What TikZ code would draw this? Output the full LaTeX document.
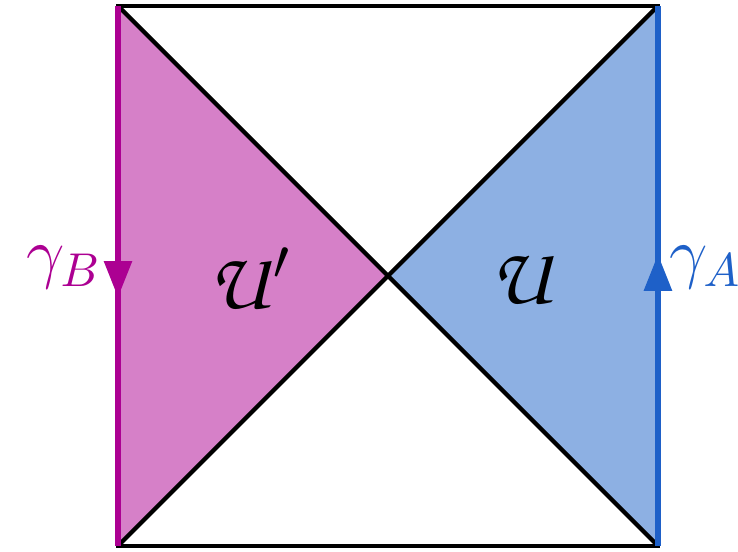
\documentclass[tikz,border=0pt]{standalone}
\usepackage{amsmath}
\usepackage{tikz}
\usepackage{xcolor}
\usetikzlibrary{arrows.meta,decorations.markings,calc}
\DeclareMathAlphabet{\mathpzc}{OT1}{pzc}{m}{it}
\definecolor{regmag}{RGB}{214,128,200}
\definecolor{linemag}{RGB}{172,0,146}
\definecolor{regblue}{RGB}{141,176,227}
\definecolor{lineblue}{RGB}{30,96,200}
\tikzset{
    edge/.style={line width=1.2pt, postaction={decorate}},
    midarrow/.style={decoration={markings, mark=at position 0.54 with {\arrow{Triangle[length=2.7mm, width=2mm]}}}},
    lbl/.style={font=\Large},
    region/.style={font=\LARGE}
}
\begin{document}
\begin{tikzpicture}
    \useasboundingbox (-0.874,-0.044) rectangle (4.593,4.044);
    % Corners and centre
    \coordinate (bl) at (0,0);
    \coordinate (br) at (4,0);
    \coordinate (tr) at (4,4);
    \coordinate (tl) at (0,4);
    \coordinate (c) at (2,2);
    % Wedges
    \fill[regmag] (tl) -- (c) -- (bl) -- cycle;
    \fill[regblue] (tr) -- (c) -- (br) -- cycle;
    % Square and diagonals
    \draw[line width=0.9pt] (bl) rectangle (tr);
    \draw[line width=0.9pt] (bl) -- (tr);
    \draw[line width=0.9pt] (tl) -- (br);
    % Boundaries
    \draw[edge, midarrow, linemag] (tl) -- (bl);
    \draw[edge, midarrow, lineblue] (br) -- (tr);
    % Labels
    \node[lbl, linemag, anchor=east, inner sep=1pt] (gb) at (-0.08,2.06) {$\gamma_B$};
    \node[lbl, lineblue, anchor=west, inner sep=1pt] (ga) at (4.04,2.06) {$\gamma_A$};
    \node[region] (up) at (0.98,1.98) {$\mathpzc{U}'$};
    \node[region] (u) at (3.0,1.98) {$\mathpzc{U}$};
\end{tikzpicture}
\end{document}
